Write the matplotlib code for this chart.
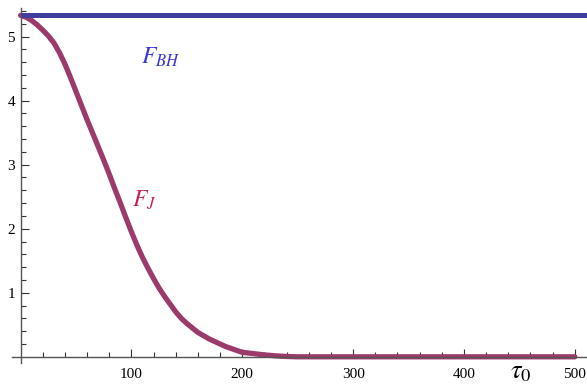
import matplotlib.pyplot as plt

plt.rcParams['font.family'] = 'Liberation Serif'
plt.rcParams['mathtext.fontset'] = 'stix'

# values
tau = [0, 5, 10, 15, 20, 25, 30, 35, 40, 45, 50, 55, 60, 65, 70, 75, 80,
       85, 90, 95, 100, 105, 110, 115, 120, 125, 130, 135, 140, 145, 150,
       155, 160, 165, 170, 175, 180, 185, 190, 195, 200, 210, 220, 230,
       240, 250, 300, 350, 400, 450, 500]
f_j = [5.33, 5.30, 5.25, 5.18, 5.10, 5.01, 4.90, 4.75, 4.57, 4.36, 4.14,
       3.92, 3.70, 3.49, 3.28, 3.07, 2.85, 2.62, 2.40, 2.17, 1.95, 1.74,
       1.55, 1.38, 1.22, 1.07, 0.94, 0.82, 0.70, 0.60, 0.52, 0.45, 0.38,
       0.33, 0.28, 0.24, 0.20, 0.16, 0.13, 0.10, 0.07, 0.05, 0.03, 0.015,
       0.005, 0.0, 0.0, 0.0, 0.0, 0.0, 0.0]
tau_bh = [0, 520]
f_bh = [5.33, 5.33]

fig = plt.figure(figsize=(5.87, 3.85), dpi=100)
ax = fig.add_axes([0, 0, 1, 1])

ax.plot(tau_bh, f_bh, color='#3e3e9e', lw=3.6, solid_capstyle='butt', zorder=3)
ax.plot(tau, f_j, color='#9b3a6b', lw=3.8, solid_capstyle='round',
        solid_joinstyle='round', zorder=2)

ax.set_xlim(-18.6, 511)
ax.set_ylim(-0.44, 5.57)

for s in ['top', 'right']:
    ax.spines[s].set_visible(False)
ax.spines['left'].set_position(('data', 0))
ax.spines['bottom'].set_position(('data', 0))
ax.spines['left'].set_bounds(-0.1, 5.45)
ax.spines['bottom'].set_bounds(-8, 511)
for s in ['left', 'bottom']:
    ax.spines[s].set_color('#555555')
    ax.spines[s].set_linewidth(1.0)

ax.set_xticks([100, 200, 300, 400, 500])
ax.set_yticks([1, 2, 3, 4, 5])
ax.set_yticks([0.2 * k for k in range(1, 28) if k % 5], minor=True)
ax.set_xticks([20 * k for k in range(1, 26) if k % 5], minor=True)
ax.tick_params(axis='x', which='both', direction='in', labelsize=11, pad=8, color='#333333')
ax.tick_params(axis='y', which='both', direction='in', labelsize=11, pad=4, color='#333333')
ax.tick_params(which='major', length=6, width=0.8)
ax.tick_params(which='minor', length=3.5, width=0.8)

ax.text(126, 4.67, r'$F_{BH}$', color='#3535d8', fontsize=17, ha='center', va='center')
ax.text(112, 2.45, r'$F_J$', color='#c2235a', fontsize=17, ha='center', va='center')
ax.text(451, -0.25, r'$\tau_0$', color='black', fontsize=19, ha='center', va='center')

fig.savefig('out.png', dpi=100)
